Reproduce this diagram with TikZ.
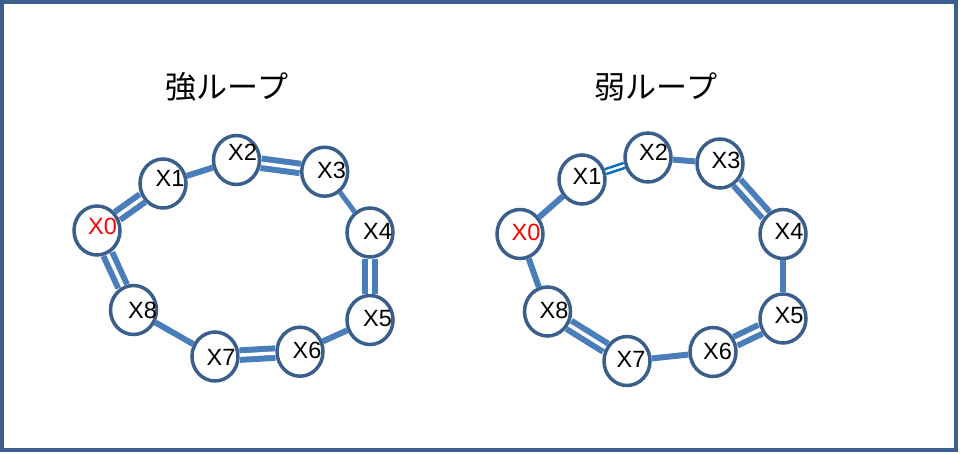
\documentclass[tikz,border=0pt]{standalone}
\usepackage{fontspec}
\setmainfont{Liberation Sans}
\newfontfamily\cjk{Noto Sans CJK JP}
\usetikzlibrary{shapes.geometric}
\definecolor{nodeline}{HTML}{3A5F8C}
\definecolor{edgec}{HTML}{4A7EBB}
\definecolor{thinc}{HTML}{0070C0}
\begin{document}
\begin{tikzpicture}[x=1pt,y=-1pt,
  vtx/.style={ellipse,draw=nodeline,line width=3.5pt,fill=white,minimum width=46pt,minimum height=49pt,inner sep=0pt},
  lbl/.style={inner sep=0pt,font=\fontsize{23.5}{27}\selectfont},
  title/.style={inner sep=0pt,font=\cjk\fontsize{31}{36}\selectfont},
  sgl/.style={draw=edgec,line width=6pt},
  dbl/.style={draw=edgec,line width=6pt,double=white,double distance=3.5pt},
  thin/.style={draw=thinc,line width=2.5pt,double=white,double distance=2.5pt}]
\useasboundingbox (0,0) rectangle (961,453);
\draw[nodeline,line width=4pt] (2,2) rectangle (956,450);
% titles
\node[title] (t1) at (227,87) {強ループ};
\node[title] (t2) at (656,87) {弱ループ};
% left graph
\node[vtx] (a0) at (97,230.5) {};
\node[vtx] (a1) at (163,183.5) {};
\node[vtx] (a2) at (236.5,160) {};
\node[vtx] (a3) at (324.7,171.7) {};
\node[vtx] (a4) at (370,232.5) {};
\node[vtx] (a5) at (370,320) {};
\node[vtx] (a6) at (300,351.7) {};
\node[vtx] (a7) at (215,356.5) {};
\node[vtx] (a8) at (133.5,310) {};
% right graph
\node[vtx] (b0) at (520,234) {};
\node[vtx] (b1) at (582,179.5) {};
\node[vtx] (b2) at (648,157.5) {};
\node[vtx] (b3) at (720,163.5) {};
\node[vtx] (b4) at (783,234) {};
\node[vtx] (b5) at (783,318.5) {};
\node[vtx] (b6) at (713,352) {};
\node[vtx] (b7) at (627,361) {};
\node[vtx] (b8) at (547.5,311.5) {};
% edges left
\draw[dbl] (a0) -- (a1);
\draw[sgl] (a1) -- (a2);
\draw[dbl] (a2) -- (a3);
\draw[sgl,line width=5pt] (a3) -- (a4);
\draw[dbl] (a4) -- (a5);
\draw[sgl] (a5) -- (a6);
\draw[dbl] (a6) -- (a7);
\draw[sgl] (a7) -- (a8);
\draw[dbl] (a8) -- (a0);
% edges right
\draw[sgl] (b0) -- (b1);
\draw[thin] (b1) -- (b2);
\draw[sgl] (b2) -- (b3);
\draw[dbl] (b3) -- (b4);
\draw[sgl] (b4) -- (b5);
\draw[dbl] (b5) -- (b6);
\draw[sgl] (b6) -- (b7);
\draw[dbl] (b7) -- (b8);
\draw[sgl] (b8) -- (b0);
% labels left
\node[lbl,text=red] (la0) at (102.5,226.5) {X0};
\node[lbl] (la1) at (170,178.5) {X1};
\node[lbl] (la2) at (242.6,152.5) {X2};
\node[lbl] (la3) at (331.5,170.5) {X3};
\node[lbl] (la4) at (377.5,231.5) {X4};
\node[lbl] (la5) at (377.5,318.5) {X5};
\node[lbl] (la6) at (307,350) {X6};
\node[lbl] (la7) at (221,357.5) {X7};
\node[lbl] (la8) at (142.5,310) {X8};
% labels right
\node[lbl,text=red] (lb0) at (526,232.5) {X0};
\node[lbl] (lb1) at (587,176.5) {X1};
\node[lbl] (lb2) at (653.5,152.5) {X2};
\node[lbl] (lb3) at (726,160.5) {X3};
\node[lbl] (lb4) at (789,231.5) {X4};
\node[lbl] (lb5) at (789,315.5) {X5};
\node[lbl] (lb6) at (717.5,351.5) {X6};
\node[lbl] (lb7) at (631,359.5) {X7};
\node[lbl] (lb8) at (554,310.5) {X8};
\end{tikzpicture}
\end{document}
